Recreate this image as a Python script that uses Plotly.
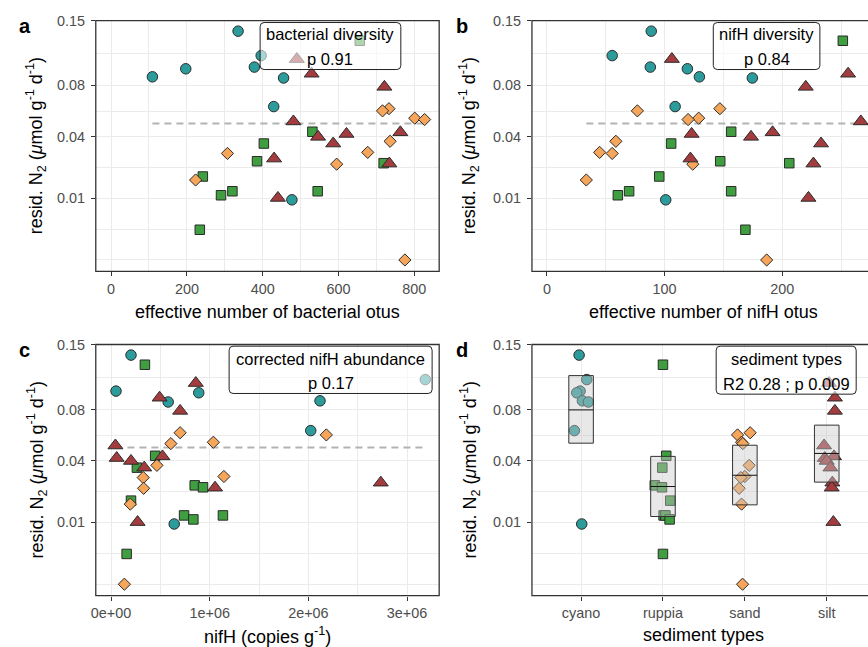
import numpy as np
import plotly.graph_objects as go

# ---------------- data ----------------
groups = ["cyano", "ruppia", "sand", "silt"]

resid_cyano = [0.1375, 0.1097, 0.0977, 0.0960, 0.0881, 0.0870, 0.0618, 0.0095]
bact_otus_cyano = [335, 396, 378, 197, 109, 455, 429, 477]
nifh_otus_cyano = [88.7, 55.5, 87.9, 119.4, 129.6, 174.6, 109, 101]
nifh_abund_cyano = [0.202e6, 3.185e6, 0.05e6, 0.889e6, 2.118e6, 0.579e6, 2.024e6, 0.64e6]
jitter_cyano = [-0.024, 0.069, -0.012, -0.053, 0.016, 0.089, -0.081, 0.008]

resid_ruppia = [0.1262, 0.0432, 0.0356, 0.0256, 0.0246, 0.0183, 0.0124, 0.0124, 0.0110, 0.0024]
bact_otus_ruppia = [656, 531, 403, 385, 719, 242, 320, 545, 290, 234]
nifh_otus_ruppia = [251.5, 156.6, 105.6, 147.3, 206, 95.5, 69.9, 156.6, 60.3, 168.7]
nifh_abund_ruppia = [0.343e6, 0.447e6, 0.262e6, 0.848e6, 0.932e6, 0.202e6, 0.74e6, 1.134e6, 0.834e6, 0.158e6]
jitter_ruppia = [0.0, 0.04, -0.008, -0.10, -0.012, 0.089, 0.008, 0.03, 0.081, 0.0]

resid_sand = [0.0601, 0.0584, 0.0528, 0.0518, 0.0370, 0.0304, 0.0298, 0.0241, 0.0168, 0.0]
bact_otus_sand = [733, 716, 801, 827, 736, 677, 307, 595, 223, 775]
nifh_otus_sand = [147, 76.9, 129, 120, 58.6, 44.8, 55.5, 124, 33.5, 186.8]
nifh_abund_sand = [0.700e6, 2.182e6, 1.037e6, 0.606e6, 0.465e6, 1.144e6, 0.326e6, 0.330e6, 0.195e6, 0.135e6]
jitter_sand = [0.065, -0.089, -0.04, -0.025, 0.053, 0.0, -0.049, -0.069, -0.04, -0.028]

resid_silt = [0.106, 0.0911, 0.0787, 0.0504, 0.0428, 0.0417, 0.0398, 0.0356, 0.027, 0.0244, 0.0101]
bact_otus_silt = [490, 529, 721, 481, 763, 621, 546, 586, 430, 734, 440]
nifh_otus_silt = [106.2, 256, 220, 266.8, 191.8, 123, 173.5, 233, 122, 226.5, 222.3]
nifh_abund_silt = [0.859e6, 0.492e6, 0.700e6, 0.044e6, 0.521e6, 0.057e6, 0.202e6, 0.336e6, 2.734e6, 1.054e6, 0.269e6]
jitter_silt = [0.028, 0.10, 0.10, -0.032, 0.089, -0.024, 0.0, 0.045, 0.069, 0.061, 0.081]

# panel d: mean and interval boxes per sediment type
box_lower = [0.0521, 0.0120, 0.0165, 0.0273]
box_mean = [0.0796, 0.0250, 0.0311, 0.0448]
box_upper = [0.1140, 0.0428, 0.0506, 0.0663]

y_ticks = [0.01, 0.04, 0.08, 0.15]
label_titles = ["bacterial diversity", "nifH diversity", "corrected nifH abundance", "sediment types"]
label_stats = ["p 0.91", "p 0.84", "p 0.17", "R2 0.28 ; p 0.009"]
panel_letters = ["a", "b", "c", "d"]
x_titles = ["effective number of bacterial otus", "effective number of nifH otus",
            "nifH (copies g<sup>-1</sup>)", "sediment types"]

# ---------------- assemble ----------------
resid = dict(cyano=resid_cyano, ruppia=resid_ruppia, sand=resid_sand, silt=resid_silt)
bact = dict(cyano=bact_otus_cyano, ruppia=bact_otus_ruppia, sand=bact_otus_sand, silt=bact_otus_silt)
nifh = dict(cyano=nifh_otus_cyano, ruppia=nifh_otus_ruppia, sand=nifh_otus_sand, silt=nifh_otus_silt)
abund = dict(cyano=nifh_abund_cyano, ruppia=nifh_abund_ruppia, sand=nifh_abund_sand, silt=nifh_abund_silt)
jit = dict(cyano=jitter_cyano, ruppia=jitter_ruppia, sand=jitter_sand, silt=jitter_silt)

colors = dict(cyano="#2b9c9b", ruppia="#3f9e3f", sand="#f5a65b", silt="#a33c3e")
symbols = dict(cyano="circle", ruppia="square", sand="diamond", silt="triangle-up")
msize = dict(cyano=10.5, ruppia=9.5, sand=9.4, silt=13)

W, H = 868, 647
FONT = "Liberation Sans, Arial, Helvetica, sans-serif"


def fx(px):
    return px / W


def fy(py):
    return 1 - py / H


tr = np.sqrt
all_resid = np.concatenate([resid[g] for g in groups])
fit_level = float(np.mean(all_resid))

fig = go.Figure()
xsets = [bact, nifh, abund]
for k, xs in enumerate(xsets):
    ax = "" if k == 0 else str(k + 1)
    allx = np.concatenate([xs[g] for g in groups])
    fig.add_trace(go.Scatter(x=[allx.min(), allx.max()], y=[tr(fit_level)] * 2, mode="lines",
                             line=dict(color="#b3b3b3", width=2, dash="7px,5px"),
                             xaxis="x" + ax, yaxis="y" + ax, showlegend=False, hoverinfo="skip"))
    for g in groups:
        fig.add_trace(go.Scatter(x=xs[g], y=tr(np.array(resid[g])), mode="markers",
                                 marker=dict(symbol=symbols[g], size=msize[g], color=colors[g],
                                             line=dict(color="#2b2b2b", width=1)),
                                 xaxis="x" + ax, yaxis="y" + ax, showlegend=False, name=g))

# panel d points
for i, g in enumerate(groups):
    xpos = (i + 1) + np.array(jit[g])
    fig.add_trace(go.Scatter(x=xpos, y=tr(np.array(resid[g])), mode="markers",
                             marker=dict(symbol=symbols[g], size=msize[g], color=colors[g],
                                         line=dict(color="#2b2b2b", width=1)),
                             xaxis="x4", yaxis="y4", showlegend=False, name=g))
# panel d boxes (drawn over points)
hw = 0.15
for i, g in enumerate(groups):
    c = i + 1
    lo, hi = tr(box_lower[i]), tr(box_upper[i])
    fig.add_trace(go.Scatter(x=[c - hw, c + hw, c + hw, c - hw, c - hw], y=[lo, lo, hi, hi, lo],
                             mode="lines", fill="toself", fillcolor="rgba(200,200,200,0.42)",
                             line=dict(color="#333333", width=1), xaxis="x4", yaxis="y4",
                             showlegend=False, hoverinfo="skip"))
    fig.add_trace(go.Scatter(x=[c - hw, c + hw], y=[tr(box_mean[i])] * 2, mode="lines",
                             line=dict(color="#111111", width=1), xaxis="x4", yaxis="y4",
                             showlegend=False, hoverinfo="skip"))

# ---------------- axes ----------------
xdom_l = [fx(91.3), fx(436.7)]
xdom_r = [fx(530), 1.0]
ydom_t = [fy(266.7), fy(12.7)]
ydom_b = [fy(595), fy(340.7)]

yt = [float(tr(v)) for v in y_ticks]
ys = sorted(yt)
step = ys[1] - ys[0]
ext = [ys[0] - step] + ys
yminor = [(a + b) / 2 for a, b in zip(ext[:-1], ext[1:])] + [ext[0]]

tickfont = dict(family=FONT, size=14.4, color="#4d4d4d")
common = dict(showline=False, zeroline=False, ticks="outside", ticklen=4, tickwidth=1,
              tickcolor="#333333", tickfont=tickfont, showgrid=True, gridcolor="#ebebeb",
              gridwidth=1.2)


def yaxis_def(dom, anchor):
    return dict(common, domain=dom, anchor=anchor, range=[-0.0185, 0.388], tickmode="array",
                tickvals=yt, ticktext=[str(v) for v in y_ticks], ticklabelstandoff=3,
                minor=dict(tickmode="array", tickvals=yminor, showgrid=True,
                           gridcolor="#ebebeb", gridwidth=0.6, ticks=""))


layout = dict(
    width=W, height=H, autosize=False, margin=dict(l=0, r=0, t=0, b=0),
    paper_bgcolor="white", plot_bgcolor="white", showlegend=False,
    font=dict(family=FONT),
    xaxis=dict(common, domain=xdom_l, anchor="y", range=[-40.4, 865.5], tickmode="array",
               tickvals=[0, 200, 400, 600, 800],
               minor=dict(dtick=100, tick0=0, showgrid=True, gridcolor="#ebebeb", gridwidth=0.6, ticks="")),
    yaxis=yaxis_def(ydom_t, "x"),
    xaxis2=dict(common, domain=xdom_r, anchor="y2", range=[-12.7, 272.9], tickmode="array",
                tickvals=[0, 100, 200],
                minor=dict(dtick=50, tick0=0, showgrid=True, gridcolor="#ebebeb", gridwidth=0.6, ticks="")),
    yaxis2=yaxis_def(ydom_t, "x2"),
    xaxis3=dict(common, domain=xdom_l, anchor="y3", range=[-0.155e6, 3.326e6], tickmode="array",
                tickvals=[0, 1e6, 2e6, 3e6], ticktext=["0e+00", "1e+06", "2e+06", "3e+06"],
                minor=dict(dtick=0.5e6, tick0=0, showgrid=True, gridcolor="#ebebeb", gridwidth=0.6, ticks="")),
    yaxis3=yaxis_def(ydom_b, "x3"),
    xaxis4=dict(common, domain=xdom_r, anchor="y4", range=[0.4, 4.504], tickmode="array",
                tickvals=[1, 2, 3, 4], ticktext=groups),
    yaxis4=yaxis_def(ydom_b, "x4"),
)
fig.update_layout(**layout)

# ---------------- panel borders ----------------
shapes = []
for k, x1 in zip(["", "2", "3", "4"], [1, 1.05, 1, 1.05]):
    shapes.append(dict(type="rect", xref=f"x{k} domain", yref=f"y{k} domain", x0=0, x1=x1, y0=0, y1=1,
                       line=dict(color="#333333", width=1.3), fillcolor="rgba(0,0,0,0)", layer="above"))

# label boxes (rounded, semi-transparent)
boxes = [(257, 397.7, 15, 62), (712.7, 819.3, 15, 62), (226, 429, 342.7, 390), (715.7, 855.7, 342.7, 390.7)]
line1_y = [26.7, 26.7, 355, 355.7]
line2_y = [51.7, 51.7, 379.3, 380.7]
annotations = []
for i, (x0, x1, y0, y1) in enumerate(boxes):
    cx, cy = (x0 + x1) / 2, (y0 + y1) / 2
    w, h, r = (x1 - x0) / 2, (y1 - y0) / 2, 4
    path = (f"M {-w + r},{-h} L {w - r},{-h} Q {w},{-h} {w},{-h + r} L {w},{h - r} Q {w},{h} {w - r},{h} "
            f"L {-w + r},{h} Q {-w},{h} {-w},{h - r} L {-w},{-h + r} Q {-w},{-h} {-w + r},{-h} Z")
    shapes.append(dict(type="path", xref="paper", yref="paper", xsizemode="pixel", ysizemode="pixel",
                       xanchor=fx(cx), yanchor=fy(cy), path=path,
                       line=dict(color="#222222", width=1), fillcolor="rgba(255,255,255,0.58)", layer="above"))
    annotations.append(dict(x=fx(cx), y=fy(line1_y[i]), xref="paper", yref="paper", text=label_titles[i],
                            showarrow=False, xanchor="center", yanchor="middle",
                            font=dict(family=FONT, size=16.5, color="black")))
    annotations.append(dict(x=fx(cx), y=fy(line2_y[i]), xref="paper", yref="paper", text=label_stats[i],
                            showarrow=False, xanchor="center", yanchor="middle",
                            font=dict(family=FONT, size=16.5, color="black")))

# panel letters
for (lx, ly), t in zip([(20, 18), (460, 18), (20, 346), (460, 346)], panel_letters):
    annotations.append(dict(x=fx(lx), y=fy(ly), xref="paper", yref="paper", text=f"<b>{t}</b>",
                            showarrow=False, xanchor="center", yanchor="middle",
                            font=dict(family=FONT, size=20, color="black")))

# axis titles
ytitle = "resid. N<sub>2</sub> (<i>μ</i>mol g<sup>-1</sup> d<sup>-1</sup>)"
for (tx, ty) in [(31.5, 139.7), (467, 139.7), (31.5, 467.9), (467, 467.9)]:
    annotations.append(dict(x=fx(tx), y=fy(ty), xref="paper", yref="paper", text=ytitle, textangle=-90,
                            showarrow=False, xanchor="center", yanchor="middle",
                            font=dict(family=FONT, size=18, color="black")))
for (tx, ty), t in zip([(264, 308), (702.7, 308), (264, 635), (702.7, 635)], x_titles):
    annotations.append(dict(x=fx(tx), y=fy(ty), xref="paper", yref="paper", text=t,
                            showarrow=False, xanchor="center", yanchor="middle",
                            font=dict(family=FONT, size=18, color="black")))

fig.update_layout(shapes=shapes, annotations=annotations)

fig.write_html("out.html", config=dict(displayModeBar=False),
               post_script="document.body.style.margin='0';document.body.style.overflow='hidden';")
